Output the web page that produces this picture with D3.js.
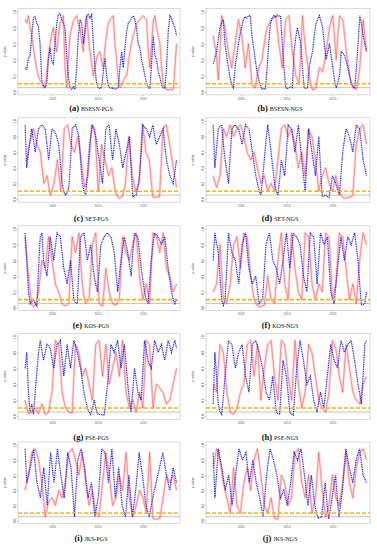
<!DOCTYPE html>
<html>
<head>
<meta charset="utf-8">
<title>p-value panels</title>
<script src="https://cdn.jsdelivr.net/npm/d3@7"></script>
<style>
body { margin: 0; background: #fff; }
svg { display: block; }
</style>
</head>
<body>
<svg width="377" height="550"></svg>
<script>
// p-values in percent, sampled evenly from early 2002 to late 2018
var letters = ["a", "b", "c", "d", "e", "f", "g", "h", "i", "j"];
var names = ["BSESN-PGS", "BSESN-NGS", "SET-PGS", "SET-NGS", "KOS-PGS",
             "KOS-NGS", "PSE-PGS", "PSE-NGS", "JKS-PGS", "JKS-NGS"];
var yearTicks = [2005, 2010, 2015];
var pTicks = [0, 0.2, 0.4, 0.6, 0.8, 1];
var startYear = 2002.0, endYear = 2018.7;
var cutoff = 0.1, baseLine = 0.05;

var blueA = [30,28,42,45,70,92,94,86,82,60,15,8,5,10,40,55,38,35,60,85,96,98,90,86,80,45,20,5,3,6,3,30,70,90,85,60,75,95,97,92,96,60,30,10,5,4,6,25,42,20,8,5,4,5,3,4,6,30,50,30,55,75,86,88,92,95,90,78,60,55,40,30,20,10,5,4,35,70,45,40,25,18,8,5,4,30,75,95,92,85,80,70];
var redA = [90,86,95,82,70,55,40,28,20,14,10,6,5,20,45,60,72,80,62,50,70,85,90,95,30,5,40,70,80,88,92,95,85,80,62,50,80,95,70,50,35,20,30,42,48,50,38,30,55,72,85,90,92,95,60,40,15,5,8,12,18,20,35,50,62,70,78,85,88,90,93,95,92,90,50,30,60,88,95,80,70,60,30,10,5,3,2,3,2,3,30,60];
var blueB = [35,42,50,65,80,86,90,60,45,30,18,8,5,30,45,60,72,82,90,94,92,95,95,70,55,40,25,15,8,3,4,3,30,60,85,92,95,93,96,94,95,60,30,5,4,5,6,5,50,68,80,70,60,30,5,4,5,30,42,50,70,85,90,95,88,80,60,40,50,60,45,30,15,5,12,20,50,48,45,38,30,20,10,6,5,30,60,95,85,70,60,50];
var redB = [70,58,45,15,50,95,88,80,65,50,40,30,45,60,75,90,80,70,50,30,45,60,35,10,6,5,18,30,35,40,55,70,80,84,88,90,93,95,80,60,45,30,60,90,93,95,70,50,35,20,15,10,50,95,70,50,35,20,8,2,3,5,18,30,28,25,38,50,65,80,88,95,70,40,70,95,92,90,70,50,35,20,10,5,4,3,15,30,60,90,70,50];
var blueC = [95,40,60,75,90,75,60,75,90,93,95,92,90,70,50,70,90,88,85,78,70,45,20,10,5,8,15,50,90,93,95,88,80,50,20,10,5,30,60,80,95,88,80,65,50,35,20,55,90,93,95,70,50,70,90,80,70,55,40,50,60,70,80,40,3,4,5,15,30,60,95,92,90,85,80,88,95,80,70,75,80,85,90,70,50,40,30,25,20,35,50];
var redC = [50,50,62,75,82,90,80,70,65,60,40,20,25,30,15,5,12,20,35,50,30,10,50,90,93,95,82,70,65,60,70,80,65,50,30,15,22,30,60,95,92,90,50,10,40,70,60,50,40,30,35,40,25,10,5,1,2,3,10,20,50,80,55,30,20,10,15,20,60,95,78,60,55,50,25,3,2,2,3,3,45,90,93,95,82,70,55,40,28,15];
var blueD = [95,40,65,90,93,95,70,50,35,20,55,90,93,95,92,90,80,70,82,95,92,90,75,60,45,30,20,10,5,25,50,75,95,78,60,40,20,10,5,25,50,40,30,60,95,92,90,75,60,78,95,72,50,30,10,50,90,75,60,45,30,55,80,40,3,4,5,3,2,15,30,25,20,12,5,30,60,75,90,85,80,70,60,78,95,92,90,70,50,40,30];
var redD = [30,22,15,22,30,60,90,85,80,88,95,88,80,85,90,93,95,88,80,70,60,55,50,55,60,50,40,30,20,25,30,20,10,15,20,15,10,30,50,70,90,93,95,88,80,85,90,80,70,55,40,50,60,45,30,60,90,85,80,65,50,30,10,20,30,35,40,30,20,15,10,20,30,20,10,5,2,1,1,2,2,3,5,40,70,80,90,93,95,82,70];
var blueE = [95,60,20,5,8,10,5,2,50,90,95,60,50,40,65,90,75,60,78,95,92,90,70,50,40,30,45,60,35,10,6,5,50,90,93,95,78,60,70,80,60,40,30,20,50,80,85,90,93,95,92,90,80,70,45,20,40,60,75,90,80,70,55,40,70,95,92,90,70,50,35,20,10,5,30,60,80,95,92,90,85,80,85,90,70,50,35,20,10,5,10];
var redE = [90,65,40,20,3,2,2,10,20,40,60,55,50,70,90,75,60,45,30,25,20,12,5,3,2,3,5,50,90,80,70,82,95,60,30,15,5,8,10,45,80,88,95,50,5,3,2,25,50,35,20,12,5,4,3,6,10,50,90,80,70,65,60,70,80,88,95,68,40,25,10,20,30,18,5,50,95,92,90,80,70,82,95,72,50,45,40,30,20,25,30];
var blueF = [60,95,82,70,40,10,3,10,50,95,82,70,65,60,45,30,55,80,88,95,72,50,40,30,35,40,22,5,8,10,45,80,88,95,78,60,55,50,40,30,45,60,78,95,72,50,72,95,92,90,85,80,60,40,30,20,58,95,92,90,60,30,62,95,88,80,85,90,55,20,12,5,28,50,70,90,75,60,75,90,85,80,88,95,78,60,30,3,4,5,20];
var redF = [20,25,30,55,80,45,10,8,5,18,30,55,80,85,90,70,50,72,95,92,90,65,40,25,10,6,2,1,1,2,3,20,40,25,10,8,5,32,60,78,95,62,30,20,10,52,95,72,50,35,20,15,10,52,95,92,90,60,30,20,10,20,30,25,20,58,95,92,90,50,10,20,30,62,95,92,90,70,50,30,10,20,30,18,5,32,60,78,95,88,80];
var blueG = [60,80,30,5,15,2,30,55,80,95,82,70,80,90,88,85,72,60,75,90,92,95,72,50,70,90,75,60,78,95,88,80,70,60,45,30,20,10,5,2,10,20,10,3,2,2,1,1,20,40,65,90,85,80,88,95,78,60,75,90,65,40,20,5,32,60,45,30,25,20,58,95,82,70,65,60,78,95,88,80,85,90,80,70,82,95,88,80,88,95,85];
var redG = [20,10,3,4,5,8,10,6,3,9,15,8,2,3,5,18,30,62,95,92,90,60,30,20,10,8,5,4,4,50,90,85,80,65,50,55,60,50,40,30,20,55,90,93,95,72,50,70,90,65,40,50,60,70,80,65,50,72,95,62,30,20,10,15,20,12,5,18,30,20,10,52,95,92,90,50,10,25,40,38,35,32,30,22,15,18,20,30,40,50,60];
var blueH = [15,80,50,15,5,2,25,50,72,95,92,90,75,60,70,80,85,90,70,50,40,30,60,90,93,95,88,80,70,60,45,30,25,20,35,50,28,5,3,2,35,70,60,50,28,5,2,1,30,60,78,95,82,70,55,40,45,50,35,20,12,5,18,30,20,10,30,50,70,90,80,70,65,60,78,95,88,80,85,90,92,95,82,70,55,40,28,15,52,90,95];
var redH = [40,35,30,60,90,85,80,55,30,18,5,3,2,6,10,20,30,35,40,65,90,92,95,72,50,70,90,55,20,40,60,75,90,92,95,72,50,35,20,58,95,92,90,70,50,35,20,58,95,68,40,25,10,20,30,60,90,85,80,65,50,35,20,15,10,8,5,18,30,62,95,90,85,68,50,40,30,60,90,75,60,45,30,25,20,18,15,28,40,45,50];
var blueI = [95,50,60,70,82,95,72,50,40,30,50,70,45,20,55,90,70,50,72,95,78,60,45,30,60,90,80,70,38,5,42,80,88,95,82,70,50,30,40,50,28,5,18,30,62,95,92,90,70,50,72,95,62,30,50,70,45,20,12,5,32,60,32,5,22,40,65,90,75,60,40,20,12,5,18,30,40,50,60,70,80,90,75,60,50,40,55,70,60,50];
var redI = [40,50,60,75,90,92,95,88,80,65,50,28,5,15,25,28,30,25,20,30,40,35,30,40,50,70,90,92,95,88,80,70,60,75,90,70,50,35,20,30,40,25,10,8,5,28,50,70,90,75,60,40,20,25,30,45,60,50,40,65,90,60,30,18,5,12,20,30,40,35,30,20,10,50,90,45,3,2,2,2,3,15,30,45,60,55,50,55,60,50,40];
var blueJ = [90,30,62,95,82,70,55,40,50,60,40,20,40,60,78,95,88,80,85,90,70,50,65,80,65,50,40,30,18,5,32,60,78,95,88,80,70,60,45,30,35,40,30,20,35,50,70,90,85,80,88,95,78,60,40,20,40,60,40,20,10,3,4,5,28,50,25,2,15,30,45,60,32,5,22,40,68,95,82,70,60,50,65,80,88,95,78,60,55,50];
var redJ = [70,82,95,88,80,65,50,40,30,20,10,40,70,45,20,15,10,30,50,60,70,55,40,60,80,88,95,78,60,40,20,15,10,20,30,16,3,2,2,30,60,55,50,35,20,25,30,60,90,92,95,72,50,40,30,45,60,35,10,20,30,60,90,65,40,22,5,12,20,40,60,45,30,25,20,35,50,70,90,70,50,40,30,50,70,80,90,92,95,88,80];

var redSeries = [redA, redB, redC, redD, redE, redF, redG, redH, redI, redJ];
var blueSeries = [blueA, blueB, blueC, blueD, blueE, blueF, blueG, blueH, blueI, blueJ];

// layout: two columns, five rows
var colLeft = [18, 206], colRight = [180, 370];
var captionX = [91, 280];
var rowOne = [11.7, 121, 229, 336.5, 445];
var rowZero = [91.7, 199, 307.5, 416, 520.5];
var captionY = [108, 218, 325, 437, 538];

var svg = d3.select("svg");

names.forEach(function(name, k) {
  var col = k % 2, row = Math.floor(k / 2);
  var x = d3.scaleLinear().domain([2001.22, 2019.08]).range([colLeft[col], colRight[col]]);
  var y = d3.scaleLinear().domain([0, 1]).range([rowZero[row], rowOne[row]]);
  var g = svg.append("g");

  var top = y(1.04), bottom = y(-0.04);

  g.append("line")
      .attr("x1", x.range()[0]).attr("x2", x.range()[1])
      .attr("y1", y(baseLine)).attr("y2", y(baseLine))
      .attr("stroke", "#9a9a9a").attr("stroke-width", 0.6);

  var line = d3.line()
      .x(function(d, i, arr) { return x(startYear + i * (endYear - startYear) / (arr.length - 1)); })
      .y(function(d) { return y(d / 100); });

  // red: pale band with a thin core
  g.append("path")
      .datum(redSeries[k])
      .attr("d", line)
      .attr("fill", "none")
      .attr("stroke", "rgba(255,80,80,0.22)")
      .attr("stroke-width", 2.6)
      .attr("stroke-linejoin", "round");
  g.append("path")
      .datum(redSeries[k])
      .attr("d", line)
      .attr("fill", "none")
      .attr("stroke", "rgba(255,0,0,0.5)")
      .attr("stroke-width", 0.7)
      .attr("stroke-linejoin", "round");

  // blue: dotted
  g.append("path")
      .datum(blueSeries[k])
      .attr("d", line)
      .attr("fill", "none")
      .attr("stroke", "#2020ff")
      .attr("stroke-width", 1.25)
      .attr("stroke-dasharray", "1,0.75");

  g.append("line")
      .attr("x1", x.range()[0]).attr("x2", x.range()[1])
      .attr("y1", y(cutoff)).attr("y2", y(cutoff))
      .attr("stroke", "#ffb400").attr("stroke-width", 1.6)
      .attr("stroke-dasharray", "4,2");

  g.append("rect")
      .attr("x", x.range()[0]).attr("y", top)
      .attr("width", x.range()[1] - x.range()[0]).attr("height", bottom - top)
      .attr("fill", "none").attr("stroke", "#b5b5b5").attr("stroke-width", 0.5);

  var xAxis = d3.axisBottom(x).tickValues(yearTicks).tickSize(1.5).tickPadding(1)
      .tickFormat(d3.format("d"));
  g.append("g")
      .attr("transform", "translate(0," + bottom + ")")
      .call(xAxis)
      .call(function(s) {
        s.select(".domain").remove();
        s.selectAll("line").attr("stroke", "#999").attr("stroke-width", 0.4);
        s.selectAll("text").attr("font-size", 3.2).attr("fill", "#666")
          .attr("font-family", "Liberation Sans, Arial, sans-serif");
      });

  var yAxis = d3.axisLeft(y).tickValues(pTicks).tickSize(1.5).tickPadding(1)
      .tickFormat(d3.format(".1f"));
  g.append("g")
      .attr("transform", "translate(" + x.range()[0] + ",0)")
      .call(yAxis)
      .call(function(s) {
        s.select(".domain").remove();
        s.selectAll("line").attr("stroke", "#999").attr("stroke-width", 0.4);
        s.selectAll("text").attr("font-size", 3.2).attr("fill", "#666")
          .attr("font-family", "Liberation Sans, Arial, sans-serif")
          .attr("text-anchor", "middle")
          .attr("transform", "translate(-3.5,0) rotate(-90)")
          .attr("x", 0).attr("dy", "0.32em");
      });

  g.append("text")
      .attr("transform", "translate(" + (x.range()[0] - 12) + "," + y(0.5) + ") rotate(-90)")
      .attr("text-anchor", "middle")
      .attr("font-size", 3.4).attr("fill", "#555")
      .attr("font-family", "Liberation Sans, Arial, sans-serif")
      .text("p-value");

  var cap = g.append("text")
      .attr("x", captionX[col]).attr("y", captionY[row] + 3)
      .attr("text-anchor", "middle")
      .attr("font-family", "Liberation Serif, Times New Roman, serif")
      .attr("fill", "#111");
  cap.append("tspan").attr("font-weight", "bold").attr("font-size", 8.5)
      .text("(" + letters[k] + ")");
  cap.append("tspan").attr("font-size", 6).attr("dx", 2).text(name);
});
</script>
</body>
</html>
